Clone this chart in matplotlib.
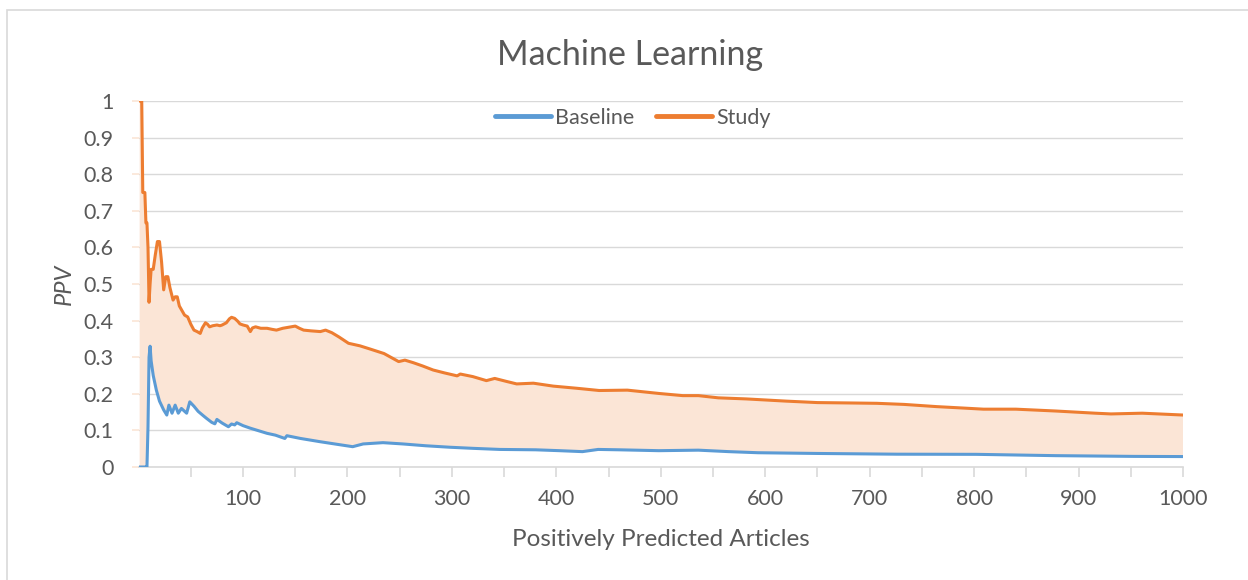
import matplotlib
matplotlib.use("Agg")
import matplotlib.pyplot as plt
from matplotlib.patches import Rectangle
from matplotlib.ticker import MultipleLocator, FixedLocator

# values (x = number of positively predicted articles)
study_x = [1, 2, 3, 4, 5, 6, 7, 8, 9, 10, 11, 12, 14, 16, 18, 20, 22, 24, 26, 28,
           30, 33, 35, 37, 39, 41, 44, 47, 50, 53, 56, 59, 61, 64, 66, 68, 71, 75,
           78, 80, 84, 87, 89, 92, 95, 97, 100, 104, 107, 109, 112, 117, 123, 128,
           132, 138, 144, 150, 154, 158, 165, 174, 179, 185, 192, 201, 212, 222,
           235, 249, 255, 263, 272, 282, 293, 305, 308, 320, 333, 341, 352, 362,
           378, 397, 420, 441, 468, 498, 521, 536, 555, 582, 620, 650, 680, 707,
           733, 764, 790, 809, 840, 878, 916, 931, 961, 1000]
study_ppv = [1.0, 1.0, 1.0, 0.75, 0.75, 0.75, 0.667, 0.667, 0.6, 0.45, 0.5, 0.54,
             0.54, 0.58, 0.616, 0.616, 0.56, 0.484, 0.52, 0.52, 0.49, 0.456,
             0.465, 0.465, 0.44, 0.43, 0.415, 0.41, 0.39, 0.374, 0.37, 0.365,
             0.38, 0.394, 0.39, 0.383, 0.386, 0.388, 0.386, 0.388, 0.394, 0.405,
             0.409, 0.406, 0.398, 0.391, 0.388, 0.385, 0.37, 0.38, 0.383, 0.379,
             0.379, 0.376, 0.374, 0.379, 0.382, 0.385, 0.379, 0.374, 0.372,
             0.37, 0.374, 0.367, 0.355, 0.338, 0.331, 0.322, 0.31, 0.288, 0.292,
             0.285, 0.276, 0.265, 0.257, 0.249, 0.254, 0.247, 0.236, 0.242, 0.234,
             0.227, 0.229, 0.221, 0.215, 0.209, 0.21, 0.201, 0.195, 0.195, 0.189,
             0.186, 0.18, 0.176, 0.175, 0.174, 0.171, 0.165, 0.161, 0.158, 0.158,
             0.153, 0.147, 0.145, 0.147, 0.142]

base_x = [1, 4, 7, 8, 9, 10, 11, 12, 14, 17, 20, 24, 27, 29, 32, 35, 38, 41, 46,
          49, 53, 57, 62, 65, 70, 73, 75, 80, 86, 89, 92, 94, 100, 107, 115, 123,
          131, 140, 142, 155, 174, 190, 205, 215, 234, 253, 275, 298, 320, 346,
          380, 403, 425, 440, 460, 498, 536, 565, 593, 650, 726, 802, 878, 953,
          1000]
base_ppv = [0.0, 0.0, 0.0, 0.0, 0.11, 0.3, 0.33, 0.29, 0.25, 0.21, 0.18, 0.156,
            0.142, 0.169, 0.147, 0.169, 0.147, 0.16, 0.147, 0.178, 0.166, 0.152,
            0.14, 0.133, 0.122, 0.118, 0.13, 0.12, 0.11, 0.1175, 0.115, 0.121,
            0.113, 0.106, 0.099, 0.092, 0.087, 0.078, 0.0855, 0.078, 0.069, 0.062,
            0.0555, 0.063, 0.0665, 0.063, 0.058, 0.054, 0.051, 0.048, 0.047,
            0.0446, 0.042, 0.048, 0.047, 0.0446, 0.046, 0.042, 0.039, 0.037,
            0.035, 0.0346, 0.031, 0.029, 0.0285]

blue = "#5b9bd5"
orange = "#ed7d31"
peach = "#fbe5d6"
grid = "#d9d9d9"
txt = "#595959"

plt.rcParams["font.family"] = ["Lato", "DejaVu Sans"]

fig = plt.figure(figsize=(12.48, 5.8), dpi=100)
ax = fig.add_axes([138.6 / 1248, 1 - 467 / 580, (1183 - 138.6) / 1248, 366 / 580])

# chart area border (only left and top show in the reference)
fig.patches.append(Rectangle((7 / 1248, -0.1), 1.2, (570 / 580) + 0.1,
                             transform=fig.transFigure, fill=False,
                             edgecolor=grid, linewidth=1.2))

# shaded band between the two lines
poly_x = study_x + base_x[::-1]
poly_y = study_ppv + base_ppv[::-1]
ax.fill(poly_x, poly_y, color=peach, linewidth=0, zorder=1)

ax.plot(base_x, base_ppv, color=blue, linewidth=2.2, label="Baseline", zorder=3,
        solid_joinstyle="round")
ax.plot(study_x, study_ppv, color=orange, linewidth=2.2, label="Study", zorder=3,
        solid_joinstyle="round")

ax.set_xlim(0, 1000)
ax.set_ylim(0, 1)
ax.yaxis.set_major_locator(MultipleLocator(0.1))
ax.yaxis.set_major_formatter(plt.FuncFormatter(lambda v, p: f"{v:.1f}".rstrip("0").rstrip(".") if v else "0"))
ax.xaxis.set_major_locator(FixedLocator(range(100, 1001, 100)))
ax.xaxis.set_minor_locator(FixedLocator(range(50, 1001, 100)))

ax.grid(axis="y", color=grid, linewidth=1.0, zorder=0)
ax.set_axisbelow(True)
for s in ["top", "right", "left"]:
    ax.spines[s].set_visible(False)
ax.spines["bottom"].set_color(grid)
ax.spines["bottom"].set_linewidth(1.2)

ax.tick_params(axis="x", which="both", length=7, width=1.2, color=grid,
               labelcolor=txt, labelsize=15.5, pad=9)
ax.tick_params(axis="y", length=5, width=1.2, color=peach, labelcolor=txt,
               labelsize=15.5, pad=13)

ax.set_xlabel("Positively Predicted Articles", fontsize=17.5, color=txt, labelpad=14)
ax.set_ylabel("PPV", fontsize=17, color=txt, style="italic", labelpad=6)
fig.text(630 / 1248, 1 - 55 / 580, "Machine Learning",
         ha="center", va="center", fontsize=24.5, color=txt)

leg = fig.legend(handles=ax.get_lines(), loc="center", bbox_to_anchor=(633 / 1248, 1 - 118 / 580),
                 ncol=2, frameon=False, fontsize=15.5, handlelength=2.6,
                 handletextpad=0.2, columnspacing=1.0)
for line in leg.get_lines():
    line.set_linewidth(3.5)
    line.set_solid_capstyle("round")
for t in leg.get_texts():
    t.set_color(txt)

fig.savefig("out.png", dpi=100)
